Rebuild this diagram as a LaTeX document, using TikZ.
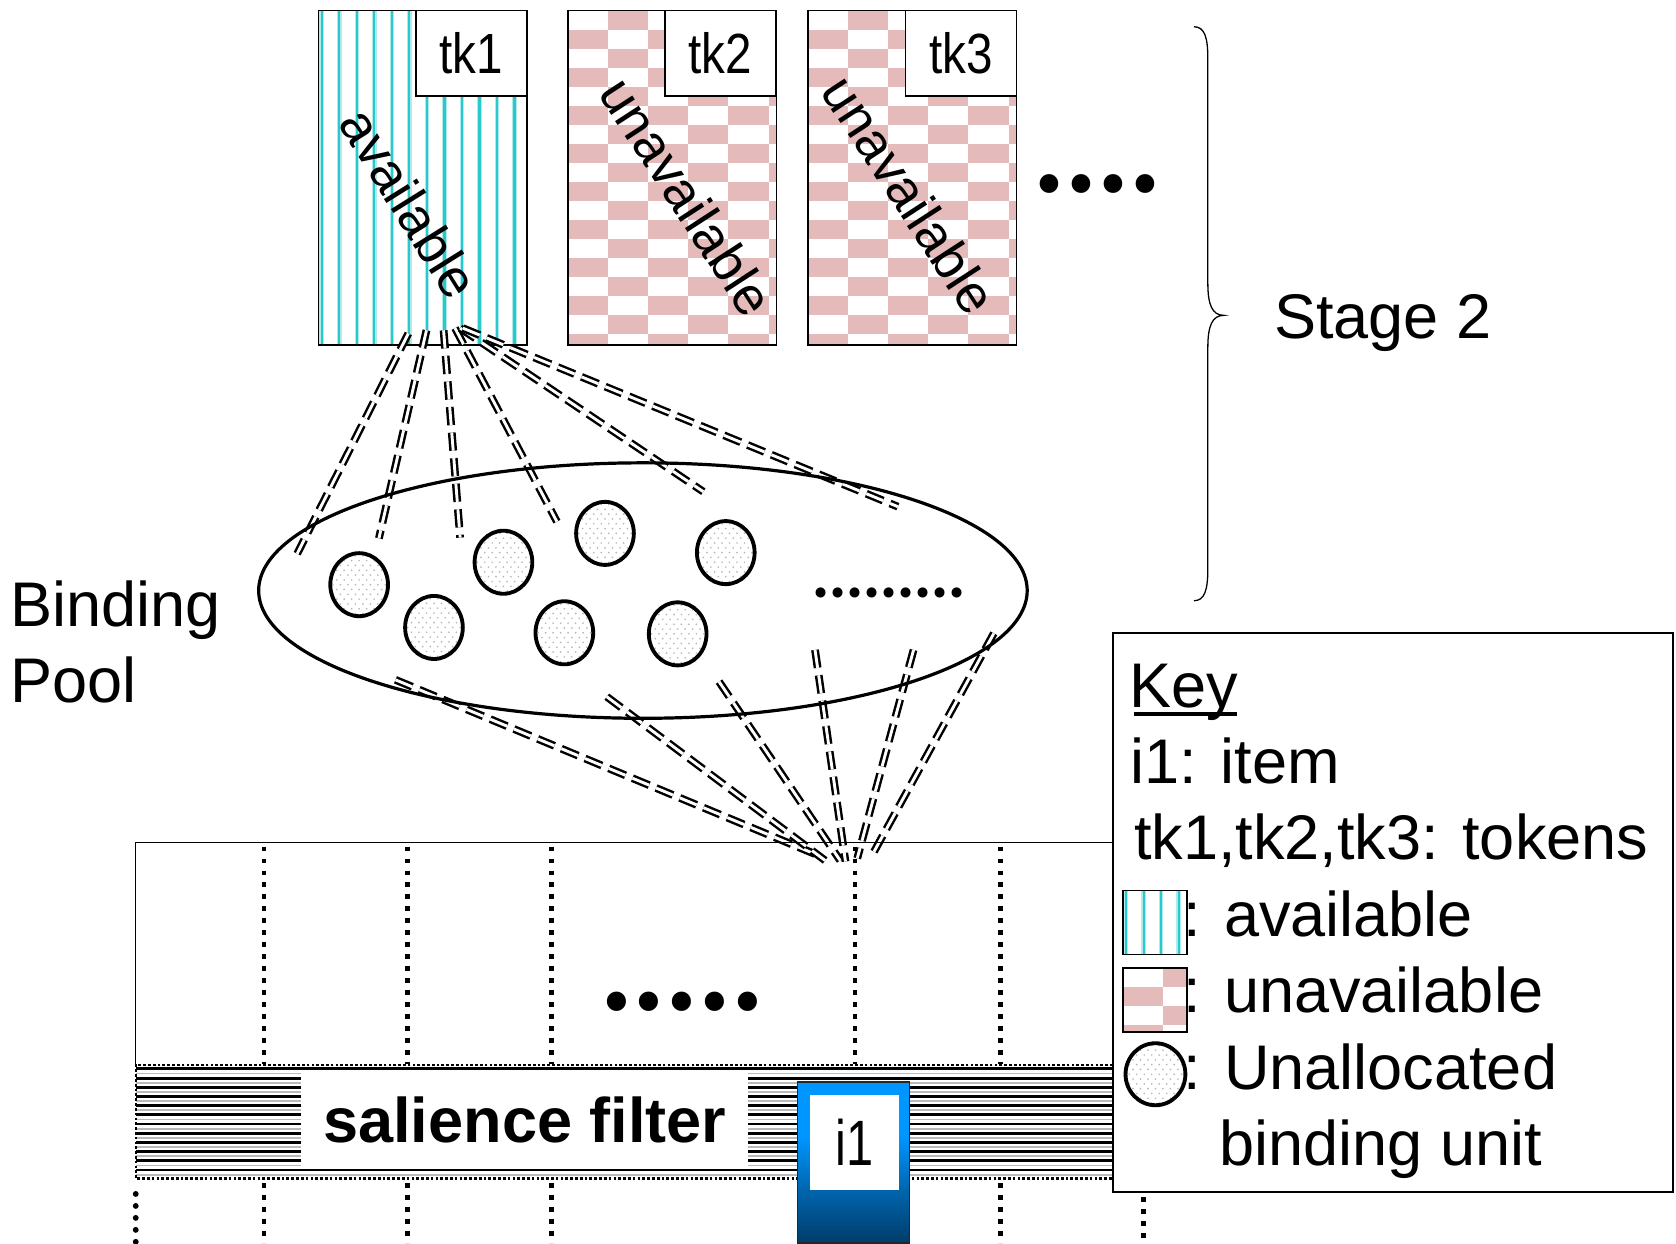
\documentclass[tikz,border=0pt]{standalone}
\usepackage{fontspec}
\setmainfont{Liberation Sans}
\newfontfamily\narrowA[FakeStretch=0.84]{Liberation Sans}
\newfontfamily\narrowB[FakeStretch=0.76]{Liberation Sans}
\newfontfamily\dotfont{Poppins}
\usetikzlibrary{shapes.geometric,calc}

\definecolor{tkcyan}{RGB}{40,200,205}
\definecolor{tkcyanl}{RGB}{175,235,235}
\definecolor{pinkc}{RGB}{228,186,186}
\definecolor{ibright}{RGB}{0,150,255}
\definecolor{imid}{RGB}{0,100,172}
\definecolor{idark}{RGB}{0,60,105}
\pgfdeclareverticalshading{ishade}{100bp}{color(0bp)=(idark); color(25bp)=(idark); color(41bp)=(imid); color(58bp)=(ibright); color(75bp)=(ibright); color(100bp)=(ibright)}

\newcommand\fsz[1]{\fontsize{#1}{#1}\selectfont}

\begin{document}
\begin{tikzpicture}[x=1pt,y=-1pt,
  every node/.style={inner sep=0pt, outer sep=0pt},
  stripes/.style={path picture={
    \foreach \i in {0,...,#1}{
      \pgfmathsetmacro\xx{3+\i*16.4}
      \draw[tkcyanl,line width=4.2pt] ([xshift=\xx pt]path picture bounding box.north west) -- ([xshift=\xx pt]path picture bounding box.south west);
      \draw[tkcyan,line width=2pt] ([xshift=\xx pt]path picture bounding box.north west) -- ([xshift=\xx pt]path picture bounding box.south west);
    }}},
  checker/.style 2 args={path picture={
    \foreach \i in {0,...,#1}{\foreach \j in {0,...,#2}{
      \pgfmathtruncatemacro\k{mod(\i+\j,2)}
      \ifnum\k=1 \fill[pinkc] ([shift={(\i*37.5,\j*17.8)}]path picture bounding box.north west) rectangle ++(37.5,17.8);\fi
    }}}},
  bunit/.style={ellipse, draw, line width=3.6pt, minimum width=54pt, minimum height=59pt, path picture={
     \foreach \i in {-5,...,5}{\foreach \j in {-7,...,7}{
       \pgfmathsetmacro\xx{\i*7+3.5*mod(\j+7,2)}
       \pgfmathsetmacro\yy{\j*4.5}
       \fill[gray!55] ([shift={(\xx pt,\yy pt)}]path picture bounding box.center) circle[radius=0.9pt];}}}},
  tkbox/.style={draw, line width=1.5pt, minimum width=195pt, minimum height=313pt},
  tklab/.style={draw, fill=white, line width=1.5pt, minimum width=104pt, minimum height=80pt, font=\narrowA\fsz{53}},
  link/.style={draw, line width=2.3pt, double=white, double distance=2.7pt, dash pattern=on 17pt off 7pt},
  vdot/.style={line width=4.4pt, dash pattern=on 4.4pt off 6.8pt},
  rdot/.style={line width=5.5pt, line cap=round, dash pattern=on 0pt off 11.2pt},
  big/.style={font=\fsz{59}},
]
\useasboundingbox (0,0) rectangle (1568,1163);

% tokens
\node[tkbox, stripes=11] (tk1) at (395.5,166.5) {};
\node[tkbox, checker={5}{17}] (tk2) at (629,166.5) {};
\node[tkbox, checker={5}{17}] (tk3) at (853.5,166.5) {};
\node[rotate=-58, font=\fsz{50}] (av) at (383,190) {available};
\node[rotate=-57, font=\fsz{50}] (un2) at (643,184) {unavailable};
\node[rotate=-57, font=\fsz{50}] (un3) at (851,182) {unavailable};
\node[tklab] (l1) at (441,50) {tk1};
\node[tklab] (l2) at (674,50) {tk2};
\node[tklab] (l3) at (899,50) {tk3};
\node[font=\dotfont\fsz{142}, anchor=base] (dots1) at (1026.5,180.5) {....};

% brace
\coordinate (btop) at (1117,25);
\coordinate (bbot) at (1117,562);
\draw[line width=1.2pt] (btop) .. controls (1127,25) and (1130,35) .. (1130,55) -- (1130,265)
  .. controls (1130,285) and (1134,295) .. (1145,295) .. controls (1134,295) and (1130,305) .. (1130,325)
  -- (1130,532) .. controls (1130,552) and (1127,562) .. (bbot);
\node[big, anchor=base west] (stage) at (1192,317) {Stage 2};

% binding pool label
\node[font={\fontsize{59}{71}\selectfont}, align=left, anchor=north west] (bpl) at (10,543) {Binding\\Pool};

% links upper
\coordinate (a1) at (382,312);   \coordinate (b1) at (278,518);
\coordinate (a2) at (399,309);   \coordinate (b2) at (354.5,503.6);
\coordinate (a3) at (415,309);   \coordinate (b3) at (430.5,503);
\coordinate (a4) at (425.7,307); \coordinate (b4) at (521,488);
\coordinate (a5) at (430.5,307); \coordinate (b5) at (658,460);
\coordinate (a6) at (433,307);   \coordinate (b6) at (840,474);
\foreach \n in {1,...,6} \draw[link] (a\n) -- (b\n);

% links lower
\coordinate (c1) at (370,636);     \coordinate (d1) at (765,800);
\coordinate (c2) at (567.7,651.8); \coordinate (d2) at (772,805);
\coordinate (c3) at (672.7,637.7); \coordinate (d3) at (786,805);
\coordinate (c4) at (762.5,608);   \coordinate (d4) at (791,806);
\coordinate (c5) at (854.7,608);   \coordinate (d5) at (802,803);
\coordinate (c6) at (929.8,592.5); \coordinate (d6) at (817,798);
\foreach \n in {1,...,6} \draw[link] (c\n) -- (d\n);

% pool
\node[ellipse, draw, line width=3pt, minimum width=719pt, minimum height=239pt] (pool) at (601.5,552.5) {};
\node[bunit] (u1) at (336,547) {};
\node[bunit] (u2) at (406,587) {};
\node[bunit] (u3) at (471,526) {};
\node[bunit] (u4) at (566,499) {};
\node[bunit] (u5) at (528,592) {};
\node[bunit] (u6) at (634,593) {};
\node[bunit] (u7) at (679,517) {};
\node[font=\dotfont\fsz{76}, anchor=base] (pdots) at (831.5,559) {.........};

% bottom panel
\node[minimum width=973pt, minimum height=207pt] (panel) at (613.5,891.5) {};
\draw[line width=1.3pt] (panel.north east) -- (panel.north west) -- (panel.south west);
\foreach \x in {247,381,516,800,936} {
  \draw[vdot] (\x,792) -- (\x,995);
  \draw[vdot] (\x,1107) -- (\x,1163);
}
\draw[rdot] (127,1117) -- (127,1163);
\node[font=\dotfont\fsz{146}, anchor=base] (paneldots) at (638,945) {.....};

% salience band
\node[minimum width=914pt, minimum height=106pt, fill=white, path picture={
  \foreach \j in {0,...,11}{
    \pgfmathsetmacro\yy{3.5+\j*8.6}
    \pgfmathsetmacro\yg{3.5+\j*8.6+4.3}
    \draw[black, line width=2.7pt] ([yshift=-\yy pt]path picture bounding box.north west) -- ([yshift=-\yy pt]path picture bounding box.north east);
    \draw[gray!55, line width=1.7pt] ([yshift=-\yg pt]path picture bounding box.north west) -- ([yshift=-\yg pt]path picture bounding box.north east);
  }}] (band) at (584,1049.5) {};
\draw[line width=2pt, dash pattern=on 2.5pt off 2pt] (band.north east) -- (band.north west) -- (band.south west) -- (band.south east);
\node[fill=white, minimum width=418pt, minimum height=87pt, font=\bfseries\fsz{59}] (sf) at (491,1047.5) {salience filter};

% item
\node[draw=black!85, line width=1.5pt, shading=ishade, minimum width=105pt, minimum height=151pt] (ibox) at (798.5,1087.5) {};
\node[fill=white, minimum width=83pt, minimum height=89pt, font=\narrowB\fsz{60}] (i1) at (799.5,1069) {i1};

% key
\node[draw, fill=white, line width=1.5pt, minimum width=524pt, minimum height=523pt] (key) at (1303,853.5) {};
\draw[vdot] (1070,1120) -- (1070,1163);
\node[big, anchor=base west] (k0) at (1057,662) {Key};
\draw[line width=3pt] ($(k0.base west)+(4,6)$) -- ($(k0.base east)+(-1,6)$);
\node[big, anchor=base west] (k1) at (1058,733) {i1: item};
\node[big, anchor=base west] (k2) at (1061,804) {tk1,tk2,tk3: tokens};
\node[big, anchor=base west] (k3) at (1107,876) {: available};
\node[big, anchor=base west] (k4) at (1107,947) {: unavailable};
\node[big, anchor=base west] (k5) at (1107,1019) {: Unallocated};
\node[big, anchor=base west] (k6) at (1141,1090) {binding unit};
\node[draw, line width=1.5pt, minimum width=60pt, minimum height=60pt, stripes=3] (sw1) at (1080.5,863) {};
\node[draw, line width=1.5pt, minimum width=60pt, minimum height=60pt, checker={1}{3}] (sw2) at (1080.5,935.5) {};
\node[bunit, minimum width=56pt, minimum height=58pt] (sw3) at (1081,1005) {};
\end{tikzpicture}
\end{document}
